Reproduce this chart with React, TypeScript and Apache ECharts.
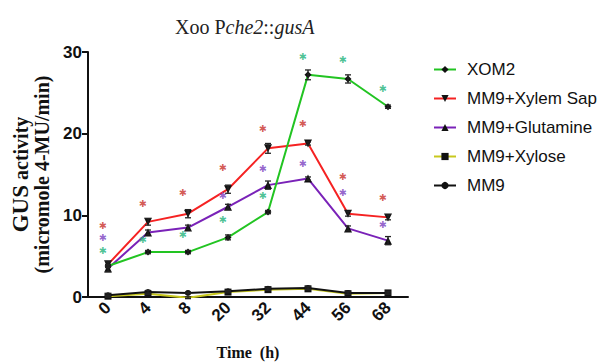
import React, { useEffect, useRef } from "react";
import * as echarts from "echarts";

const categories = ["0", "4", "8", "20", "32", "44", "56", "68"];

const xom2 = [3.8, 5.5, 5.5, 7.3, 10.4, 27.2, 26.7, 23.3];
const xylemSap = [4.0, 9.2, 10.2, 13.2, 18.2, 18.8, 10.2, 9.75];
const glutamine = [3.5, 7.9, 8.5, 11.05, 13.7, 14.5, 8.4, 6.9];
const xylose = [0.1, 0.4, -0.1, 0.6, 0.9, 1.0, 0.4, 0.5];
const mm9 = [0.2, 0.6, 0.5, 0.7, 1.0, 1.1, 0.5, 0.5];

const xom2Err = [0.2, 0.2, 0.2, 0.3, 0.2, 0.6, 0.5, 0.2];
const xylemErr = [0.3, 0.4, 0.5, 0.5, 0.6, 0.2, 0.3, 0.3];
const glutErr = [0.4, 0.3, 0.3, 0.3, 0.5, 0.2, 0.3, 0.5];
const xyloseErr = [0.1, 0.1, 0.1, 0.1, 0.1, 0.1, 0.1, 0.1];
const mm9Err = [0.2, 0.2, 0.1, 0.1, 0.2, 0.2, 0.2, 0.2];

// significance asterisks (height at which each is drawn)
const starsGreen = [5.7, 7.1, 7.6, 9.5, 12.4, 29.5, 29.1, 25.5];
const starsRed = [8.7, 11.5, 12.8, 15.9, 20.6, 21.2, 14.8, 12.2];
const starsPurple: (number | null)[] = [7.3, null, null, 12.4, 15.7, 16.4, 12.8, 8.9];

const seriesNames = ["XOM2", "MM9+Xylem Sap", "MM9+Glutamine", "MM9+Xylose", "MM9"];

export default function App() {
  const ref = useRef<HTMLDivElement>(null);
  useEffect(() => {
    document.body.style.margin = "0";
    if (!ref.current) return;
    const chart = echarts.init(ref.current, undefined, { renderer: "svg" });

    const lineSeries = (
      name: string,
      data: number[],
      color: string,
      symbol: string,
      size: number
    ) => ({
      name,
      type: "line",
      data,
      symbol,
      symbolSize: size,
      showAllSymbol: true,
      lineStyle: { color, width: 2 },
      itemStyle: { color: "#111" },
      z: 3,
    });

    const errSeries = (vals: number[], errs: number[]) => ({
      type: "custom",
      data: vals.map((v, i) => [i, v, errs[i]]),
      z: 4,
      silent: true,
      renderItem: (params: any, api: any) => {
        const i = api.value(0);
        const v = api.value(1);
        const e = api.value(2);
        const top = api.coord([i, v + e]);
        const bot = api.coord([i, v - e]);
        const w = 3;
        const st = { stroke: "#222", lineWidth: 1.3 };
        return {
          type: "group",
          children: [
            { type: "line", shape: { x1: top[0], y1: top[1], x2: bot[0], y2: bot[1] }, style: st },
            { type: "line", shape: { x1: top[0] - w, y1: top[1], x2: top[0] + w, y2: top[1] }, style: st },
            { type: "line", shape: { x1: bot[0] - w, y1: bot[1], x2: bot[0] + w, y2: bot[1] }, style: st },
          ],
        };
      },
    });

    const starSeries = (vals: (number | null)[], color: string) => ({
      type: "scatter",
      data: vals.map((v, i) => (v == null ? [i, null] : [i, v])),
      symbolSize: 0,
      silent: true,
      z: 5,
      label: {
        show: true,
        formatter: "\u2731",
        position: "inside",
        offset: [-5, 0],
        color,
        fontSize: 9.5,
        fontFamily: "DejaVu Sans",
      },
    });

    const option: any = {
      animation: false,
      backgroundColor: "#fff",
      title: {
        text: "Xoo P{i|che2}::{i|gusA}",
        left: 170,
        top: 12,
        textStyle: {
          fontFamily: "Liberation Serif",
          fontWeight: "normal",
          fontSize: 20,
          color: "#222",
          rich: {
            i: {
              fontFamily: "Liberation Serif",
              fontStyle: "italic",
              fontSize: 20,
              color: "#222",
            },
          },
        },
      },
      legend: {
        data: seriesNames,
        orient: "vertical",
        left: 428,
        top: 56,
        itemWidth: 22,
        itemHeight: 9,
        itemGap: 12,
        textStyle: {
          fontFamily: "Liberation Sans",
          fontSize: 17,
          color: "#111",
          padding: [0, 0, 0, 6],
        },
      },
      grid: {
        left: 88,
        right: 190,
        top: 52,
        bottom: 65,
        containLabel: false,
        outerBoundsMode: "none",
      },
      xAxis: {
        type: "category",
        data: categories,
        boundaryGap: true,
        name: "Time  (h)",
        nameLocation: "middle",
        nameGap: 47,
        nameTextStyle: {
          fontFamily: "Liberation Serif",
          fontWeight: "bold",
          fontSize: 16,
          color: "#111",
        },
        axisLine: { lineStyle: { color: "#111", width: 2 } },
        axisTick: { alignWithLabel: true, length: 6, lineStyle: { color: "#111", width: 2 } },
        axisLabel: {
          rotate: 45,
          fontFamily: "Liberation Sans",
          fontWeight: "bold",
          fontSize: 17,
          color: "#111",
          margin: 8,
        },
        splitLine: { show: false },
      },
      yAxis: {
        type: "value",
        min: 0,
        max: 30,
        interval: 10,
        name: "{big|GUS} activity\n(micromole 4-MU/min)",
        nameLocation: "middle",
        nameRotate: 90,
        nameGap: 29,
        nameTextStyle: {
          fontFamily: "Liberation Serif",
          fontWeight: "bold",
          fontSize: 20,
          lineHeight: 21,
          color: "#111",
          rich: {
            big: {
              fontFamily: "Liberation Serif",
              fontWeight: "bold",
              fontSize: 23,
              lineHeight: 21,
              color: "#111",
            },
          },
        },
        axisLine: { show: true, lineStyle: { color: "#111", width: 2 } },
        axisTick: { show: true, length: 6, lineStyle: { color: "#111", width: 2 } },
        axisLabel: {
          fontFamily: "Liberation Sans",
          fontWeight: "bold",
          fontSize: 17,
          color: "#111",
          margin: 6,
        },
        splitLine: { show: false },
      },
      series: [
        lineSeries("MM9+Xylose", xylose, "#c8c81e", "rect", 7),
        lineSeries("MM9", mm9, "#111", "circle", 6),
        lineSeries("MM9+Glutamine", glutamine, "#7a22b8", "triangle", 8),
        lineSeries("MM9+Xylem Sap", xylemSap, "#f52222", "path://M0,0 L10,0 L5,10 Z", 8),
        lineSeries("XOM2", xom2, "#22c422", "diamond", 7),
        errSeries(xylose, xyloseErr),
        errSeries(mm9, mm9Err),
        errSeries(glutamine, glutErr),
        errSeries(xylemSap, xylemErr),
        errSeries(xom2, xom2Err),
        starSeries(starsGreen, "#22b37a"),
        starSeries(starsRed, "#c8302a"),
        starSeries(starsPurple, "#7a40c0"),
      ],
    };
    chart.setOption(option);
    return () => chart.dispose();
  }, []);
  return <div ref={ref} style={{ width: 598, height: 362 }} />;
}
